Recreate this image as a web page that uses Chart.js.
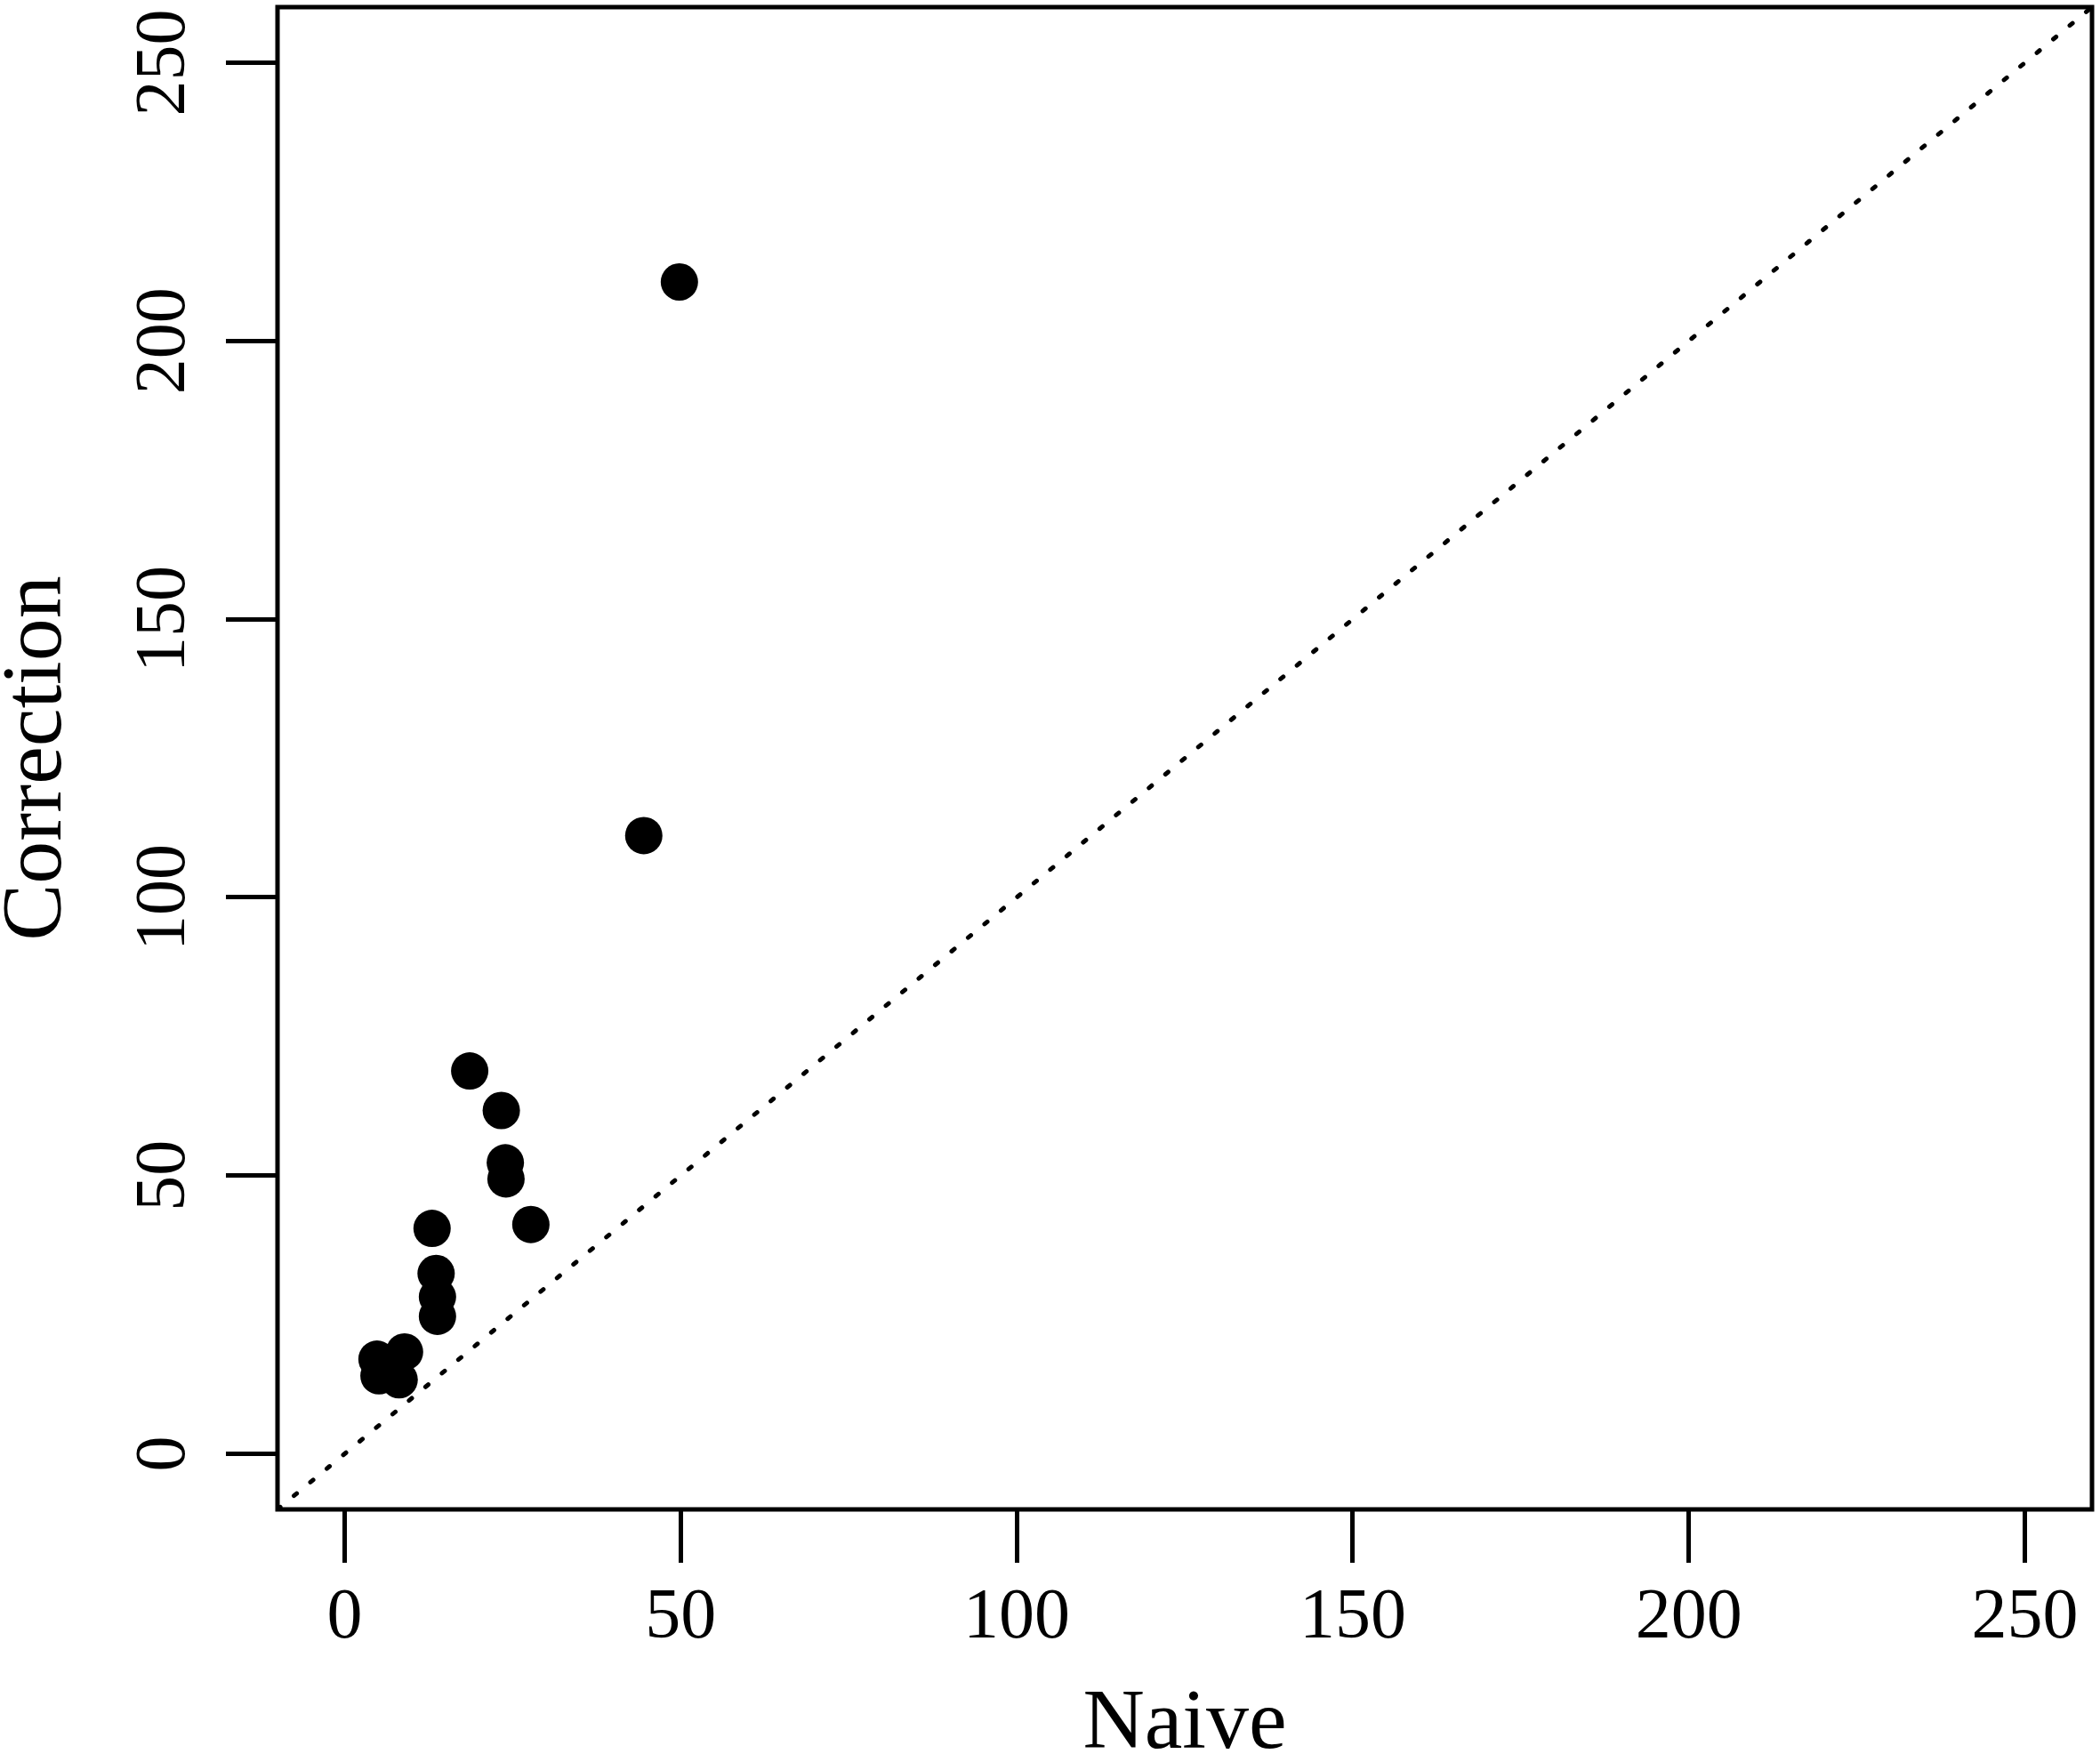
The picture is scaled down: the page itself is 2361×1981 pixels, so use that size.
<!DOCTYPE html>
<html>
<head>
<meta charset="utf-8">
<script src="https://cdn.jsdelivr.net/npm/chart.js@4/dist/chart.umd.min.js"></script>
<style>
  body { margin: 0; background: #fff; }
  canvas { display: block; }
</style>
</head>
<body>
<canvas id="plot" width="2361" height="1981"></canvas>
<script>
// values
var naive      = [49.8, 44.5, 18.6, 23.3, 23.9, 24.0, 27.7, 13.0, 13.6, 13.8, 13.8, 8.9, 4.8, 5.1, 8.1];
var correction = [210.6, 111.1, 68.8, 61.7, 52.3, 49.4, 41.2, 40.5, 32.4, 28.2, 24.7, 18.3, 17.0, 14.0, 13.3];
var tickValues = [0, 50, 100, 150, 200, 250];
var axisLimits = [-10, 260];   // R's 4% widening of 0..250
var diagonal   = axisLimits;   // y = x reference line

var serif = "'Liberation Serif', 'Times New Roman', serif";

var boxPlugin = {
	id: 'box',
	afterDraw: function(chart) {
		var a = chart.chartArea, ctx = chart.ctx;
		ctx.save();
		ctx.strokeStyle = '#000';
		ctx.lineWidth = 5;
		ctx.lineJoin = 'miter';
		ctx.strokeRect(a.left, a.top, a.right - a.left, a.bottom - a.top);
		ctx.restore();
	}
};

function fixedTicks(scale) {
	scale.ticks = tickValues.map(function(v) { return { value: v }; });
}

var points = naive.map(function(x, i) { return { x: x, y: correction[i] }; });
var refLine = diagonal.map(function(v) { return { x: v, y: v }; });

new Chart(document.getElementById('plot'), {
	type: 'scatter',
	data: {
		datasets: [{
			type: 'line',
			data: refLine,
			borderColor: '#000',
			borderWidth: 5,
			borderDash: [4, 20],
			borderCapStyle: 'round',
			pointRadius: 0,
			fill: false
		}, {
			data: points,
			backgroundColor: '#000',
			borderWidth: 0,
			pointRadius: 21
		}]
	},
	options: {
		responsive: false,
		animation: false,
		devicePixelRatio: 1,
		layout: { autoPadding: false, padding: { top: 8, right: 9, left: 0, bottom: 0 } },
		plugins: { legend: { display: false }, tooltip: { enabled: false } },
		scales: {
			x: {
				type: 'linear',
				min: axisLimits[0],
				max: axisLimits[1],
				afterBuildTicks: fixedTicks,
				afterFit: function(s) { s.height = 284; s.paddingLeft = 0; s.paddingRight = 0; },
				border: { display: false },
				grid: { drawOnChartArea: false, color: '#000', lineWidth: 5, tickLength: 60 },
				ticks: { color: '#000', padding: 15, font: { family: serif, size: 80 } },
				title: {
					display: true, text: 'Naive', color: '#000',
					padding: 0, font: { family: serif, size: 96, lineHeight: 0.85 }
				}
			},
			y: {
				type: 'linear',
				min: axisLimits[0],
				max: axisLimits[1],
				afterBuildTicks: fixedTicks,
				afterFit: function(s) { s.width = 312; s.paddingTop = 0; s.paddingBottom = 0; },
				border: { display: false },
				grid: { drawOnChartArea: false, color: '#000', lineWidth: 5, tickLength: 58 },
				ticks: {
					color: '#000', padding: 8, minRotation: 90, maxRotation: 90,
					crossAlign: 'center', font: { family: serif, size: 80 }
				},
				title: {
					display: true, text: 'Correction', color: '#000',
					padding: 0, font: { family: serif, size: 96, lineHeight: 0.9 }
				}
			}
		}
	},
	plugins: [boxPlugin]
});
</script>
</body>
</html>
